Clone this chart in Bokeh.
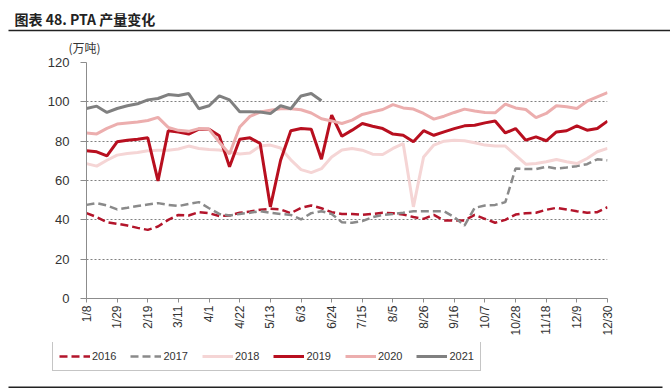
from bokeh.plotting import figure
from bokeh.layouts import column
from bokeh.models import Range1d, FixedTicker, Legend, LegendItem, Label, BoxAnnotation
from bokeh.embed import file_html
from bokeh.resources import INLINE

# ---------------- data ----------------
tick_labels = ["1/8", "1/29", "2/19", "3/11", "4/1", "4/22", "5/13", "6/3", "6/24",
               "7/15", "8/5", "8/26", "9/16", "10/7", "10/28", "11/18", "12/9", "12/30"]
n_weeks = 52
weeks = list(range(n_weeks))

y2016 = [43.4, 41.4, 38.8, 38.0, 37.1, 35.9, 34.9, 36.6, 40.0, 42.5, 42.2, 43.9, 43.4,
         41.9, 42.2, 43.6, 44.2, 45.1, 45.6, 45.3, 43.4, 46.1, 47.3, 45.9, 43.9, 43.0,
         43.0, 42.5, 43.0, 43.6, 43.4, 42.7, 41.4, 40.5, 42.5, 39.7, 39.7, 39.7, 42.5,
         40.5, 38.5, 40.0, 42.7, 43.4, 43.6, 45.1, 46.1, 45.3, 44.4, 43.6, 43.9, 46.4]
y2017 = [47.6, 48.5, 47.3, 45.3, 46.1, 47.0, 47.8, 48.5, 47.6, 47.0, 48.1, 49.0, 45.9,
         43.0, 42.2, 43.0, 43.6, 44.4, 43.6, 43.0, 42.5, 40.2, 43.4, 44.4, 43.0, 38.8,
         38.5, 39.3, 41.4, 42.5, 43.0, 43.6, 44.4, 44.4, 44.4, 44.4, 41.4, 37.1, 46.1,
         47.3, 47.6, 49.0, 66.1, 65.8, 65.8, 67.0, 66.1, 66.6, 67.3, 68.3, 70.8, 70.3]
y2018 = [68.6, 67.3, 70.3, 72.9, 73.7, 74.2, 75.1, 75.4, 75.4, 76.0, 77.5, 76.3, 75.8,
         75.5, 74.5, 73.5, 74.0, 77.5, 78.0, 76.5, 70.5, 65.5, 64.0, 66.0, 72.0, 75.5,
         76.3, 75.4, 73.4, 73.2, 76.3, 78.8, 46.6, 72.0, 78.0, 80.0, 80.5, 80.2, 79.2,
         78.0, 77.5, 77.5, 72.9, 68.3, 68.6, 69.5, 70.7, 69.5, 68.6, 71.2, 74.6, 76.3]
y2019 = [75.1, 74.6, 72.5, 79.7, 80.5, 81.0, 81.7, 59.8, 85.3, 84.7, 83.6, 86.1, 86.1,
         82.7, 67.0, 81.0, 81.7, 78.8, 46.6, 70.3, 85.3, 86.4, 86.1, 70.8, 93.2, 82.5,
         85.6, 89.0, 87.6, 86.4, 83.6, 83.0, 79.7, 85.3, 83.0, 84.7, 86.4, 87.8, 88.1,
         89.3, 90.3, 84.2, 86.4, 80.5, 82.2, 80.2, 84.7, 85.3, 87.8, 85.6, 86.4, 90.2]
y2020 = [84.2, 83.7, 86.5, 88.7, 89.2, 89.7, 90.5, 92.1, 87.0, 85.5, 85.0, 86.4, 86.0,
         79.5, 73.5, 87.2, 92.6, 94.8, 95.7, 96.5, 96.5, 96.0, 94.3, 91.4, 90.3, 89.0,
         90.7, 93.6, 94.9, 96.1, 98.6, 96.9, 96.3, 94.1, 91.2, 92.7, 94.6, 96.3, 95.3,
         94.6, 94.4, 98.8, 96.9, 96.1, 92.0, 94.1, 98.0, 97.5, 96.6, 100.3, 102.5, 104.7]
y2021 = [96.6, 97.8, 94.6, 96.6, 98.0, 99.0, 101.0, 101.7, 103.7, 103.2, 104.2, 96.5,
         98.0, 103.0, 101.0, 95.0, 95.0, 94.8, 94.0, 98.0, 96.5, 103.0, 104.2, 100.6]

series_names = ["2016", "2017", "2018", "2019", "2020", "2021"]
series_values = [y2016, y2017, y2018, y2019, y2020, y2021]
y_ticks = [0, 20, 40, 60, 80, 100, 120]

title_text = "图表 48. PTA 产量变化"
unit_text = "(万吨)"

# ---------------- styles ----------------
styles = {
    "2016": dict(line_color="#B3152B", line_width=2.5, line_dash="8 4"),
    "2017": dict(line_color="#8A8A8A", line_width=2.5, line_dash="8 4"),
    "2018": dict(line_color="#F5D5D5", line_width=3, line_dash="solid"),
    "2019": dict(line_color="#B80F1F", line_width=3, line_dash="solid"),
    "2020": dict(line_color="#ECAEAE", line_width=3, line_dash="solid"),
    "2021": dict(line_color="#808080", line_width=3, line_dash="solid"),
}

FONT = "Liberation Sans"
CJK = "Noto Sans CJK SC"
W = 670
HEAD_H, MAIN_H, LEG_H = 56, 286, 46


def bare_fig(h, xr, yr):
    f = figure(width=W, height=h, output_backend="svg", toolbar_location=None,
               x_range=xr, y_range=yr, x_axis_location=None, y_axis_location=None,
               min_border=0, min_border_left=0, min_border_right=0,
               min_border_top=0, min_border_bottom=0, frame_align=False)
    f.grid.visible = False
    f.outline_line_color = None
    f.background_fill_color = "white"
    f.border_fill_color = "white"
    return f


# ---------------- header (title, rule, unit) ----------------
head = bare_fig(HEAD_H, Range1d(0, W), Range1d(0, HEAD_H))
head.add_layout(Label(x=14, y=38, text=title_text, text_font=CJK,
                      text_font_size="14px", text_font_style="bold",
                      text_color="#222222", text_baseline="middle"))
head.add_layout(BoxAnnotation(left=8, right=W, bottom=25.2, top=26.8,
                              fill_color="#222222", fill_alpha=1, line_color=None))
head.add_layout(Label(x=68, y=9, text=unit_text, text_font=CJK,
                      text_font_size="12px", text_color="#333333",
                      text_baseline="middle"))

# ---------------- main chart ----------------
p = figure(width=W, height=MAIN_H, output_backend="svg", toolbar_location=None,
           x_range=Range1d(0, n_weeks - 1), y_range=Range1d(0, 120),
           min_border_left=86, min_border_right=63, min_border_top=6, min_border_bottom=44,
           frame_align=False)
p.background_fill_color = "white"
p.border_fill_color = "white"
p.outline_line_color = None

for name, vals in zip(series_names, series_values):
    p.line(weeks[:len(vals)], vals, **styles[name])

p.xaxis.ticker = FixedTicker(ticks=list(range(0, n_weeks, 3)))
p.xaxis.major_label_overrides = {i * 3: lab for i, lab in enumerate(tick_labels)}
p.xaxis.major_label_orientation = 3.14159265 / 2
p.xaxis.minor_tick_line_color = None
p.xaxis.major_tick_out = 4
p.xaxis.major_tick_in = 0
p.xaxis.major_label_standoff = 3
p.xaxis.axis_line_color = "#8C8C8C"
p.xaxis.major_tick_line_color = "#8C8C8C"
p.xaxis.major_label_text_font = FONT
p.xaxis.major_label_text_font_size = "12px"
p.xaxis.major_label_text_color = "#333333"

p.yaxis.ticker = FixedTicker(ticks=y_ticks)
p.yaxis.minor_tick_line_color = None
p.yaxis.major_tick_out = 6
p.yaxis.major_tick_in = 0
p.yaxis.major_label_standoff = 11
p.yaxis.axis_line_color = "#8C8C8C"
p.yaxis.major_tick_line_color = "#8C8C8C"
p.yaxis.major_label_text_font = FONT
p.yaxis.major_label_text_font_size = "13px"
p.yaxis.major_label_text_color = "#333333"

p.xgrid.visible = False
p.ygrid.grid_line_color = "#808080"
p.ygrid.grid_line_dash = "2 2"
p.ygrid.grid_line_width = 1

# ---------------- legend strip ----------------
# the series are drawn again here outside the strip's visible range,
# only so that the legend has styled renderers to show
leg = bare_fig(LEG_H, Range1d(0, W), Range1d(0, LEG_H))
leg_renderers = {}
for name, vals in zip(series_names, series_values):
    leg_renderers[name] = leg.line([-10.0 - v for v in weeks[:len(vals)]], vals, **styles[name])
items = [LegendItem(label=n, renderers=[leg_renderers[n]]) for n in series_names]
legend = Legend(items=items, location=(52, 17), orientation="horizontal",
                glyph_width=31, glyph_height=16, label_height=16, label_standoff=2,
                spacing=14, padding=6, margin=0,
                label_text_font=FONT, label_text_font_size="11px",
                label_text_color="#333333",
                border_line_color="#8C8C8C", border_line_width=1,
                background_fill_color="white", background_fill_alpha=1)
leg.add_layout(legend)
leg.add_layout(BoxAnnotation(left=8, right=W - 8, bottom=0.5, top=2.0,
                             fill_color="#222222", fill_alpha=1, line_color=None))

layout = column(head, p, leg, spacing=0)
open("out.html", "w").write(file_html(layout, INLINE))
